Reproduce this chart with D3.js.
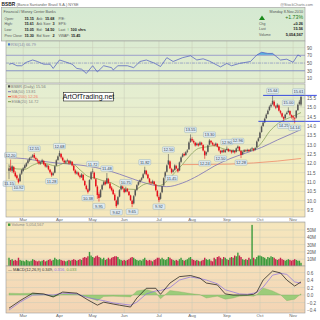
<!DOCTYPE html>
<html>
<head>
<meta charset="utf-8">
<script src="https://cdnjs.cloudflare.com/ajax/libs/d3/7.8.5/d3.min.js"></script>
<style>
body { margin: 0; background: #fff; }
svg { display: block; font-family: "Liberation Sans", Arial, sans-serif; }
</style>
</head>
<body>
<div id="chart"></div>
<script>
// BSBR daily, 16-Feb-2010 .. 8-Nov-2010 (186 sessions)
var monthNames = ["Mar", "Apr", "May", "Jun", "Jul", "Aug", "Sep", "Oct", "Nov"];
var monthStart = [9, 32, 53, 73, 95, 116, 138, 159, 180];

var opens = [11.60,11.78,11.60,11.80,11.50,11.35,11.15,11.05,11.45,
  11.60,11.75,11.85,12.02,12.15,12.30,12.35,12.45,12.28,12.20,12.10,11.98,12.06,12.12,11.98,11.82,11.85,11.66,11.50,11.38,11.50,11.88,12.18,
  12.40,12.50,12.30,12.14,12.04,12.12,12.14,12.02,12.08,11.88,11.62,11.45,11.50,11.35,11.25,11.38,11.05,10.80,10.60,10.55,11.15,
  11.55,11.50,11.15,10.75,10.35,10.20,10.60,10.85,11.00,10.92,11.15,10.92,10.70,10.58,10.32,10.00,9.80,10.22,10.60,10.75,
  10.62,10.48,10.62,10.48,10.28,10.00,9.85,10.28,10.58,10.85,11.00,11.12,11.22,11.45,11.60,11.40,11.18,10.98,10.95,11.02,10.85,10.52,
  10.20,10.10,10.45,10.82,11.25,11.55,11.95,12.10,11.70,11.55,11.65,11.85,11.70,11.62,12.08,12.35,12.50,12.45,12.62,12.75,13.15,
  13.30,13.20,13.10,12.98,13.04,12.98,13.10,12.98,12.65,12.48,12.62,13.00,13.20,13.10,13.00,12.98,13.04,12.88,12.66,12.60,12.70,12.60,
  12.72,12.76,12.66,12.68,12.60,12.66,12.62,12.82,12.88,12.66,12.48,12.62,12.70,12.66,12.72,12.68,12.76,12.78,12.72,12.86,13.20,
  13.36,13.68,14.00,14.20,14.42,14.64,14.86,15.05,15.18,15.30,15.05,15.00,15.10,14.80,14.68,14.48,14.42,14.64,14.74,14.80,14.58,
  14.52,14.42,14.45,14.85,15.18,15.15];
var highs = [11.95,12.20,11.90,11.86,11.58,11.40,11.22,11.48,11.70,
  11.80,11.95,12.06,12.22,12.33,12.40,12.50,12.55,12.36,12.26,12.15,12.12,12.24,12.18,12.02,11.96,11.90,11.70,11.56,11.55,11.90,12.22,12.42,
  12.68,12.56,12.36,12.20,12.18,12.25,12.18,12.16,12.12,11.92,11.68,11.60,11.55,11.40,11.48,11.42,11.12,10.86,10.66,11.15,11.58,
  11.72,11.55,11.20,10.82,10.45,10.62,10.90,11.08,11.10,11.48,11.22,10.98,10.78,10.64,10.40,10.05,10.25,10.62,10.85,10.80,
  10.66,10.75,10.68,10.52,10.32,10.05,10.30,10.60,10.88,11.05,11.15,11.26,11.48,11.82,11.65,11.45,11.22,11.05,11.12,11.06,10.90,10.58,
  10.28,10.45,10.82,11.25,11.58,11.95,12.50,12.15,11.76,11.70,11.95,11.92,11.75,12.10,12.38,12.55,12.58,12.65,12.76,13.18,13.55,
  13.40,13.28,13.15,13.12,13.10,13.18,13.15,13.02,12.70,12.64,13.00,13.30,13.25,13.15,13.06,13.12,13.08,12.92,12.72,12.74,12.75,12.76,
  12.90,12.80,12.76,12.72,12.74,12.70,12.85,12.96,12.92,12.70,12.65,12.76,12.75,12.78,12.76,12.80,12.88,12.82,12.88,13.22,13.40,
  13.70,14.02,14.25,14.45,14.68,14.88,15.10,15.22,15.64,15.38,15.12,15.22,15.15,14.86,14.72,14.52,14.66,14.78,15.00,14.84,14.62,
  14.58,14.48,14.86,15.20,15.40,15.61];
var lows = [11.15,11.55,11.50,11.45,11.25,11.12,10.92,11.00,11.38,
  11.55,11.68,11.80,11.95,12.08,12.18,12.28,12.25,12.15,12.02,11.92,11.92,12.00,11.90,11.78,11.76,11.62,11.45,11.28,11.32,11.46,11.85,12.12,
  12.35,12.25,12.10,11.98,11.98,12.05,11.94,11.96,11.84,11.58,11.40,11.40,11.30,11.18,11.22,11.05,10.78,10.55,10.38,10.50,11.10,
  11.45,11.15,10.72,10.10,9.95,10.15,10.55,10.80,10.82,10.88,10.90,10.62,10.50,10.30,9.98,9.62,9.75,10.18,10.55,10.60,
  10.40,10.44,10.45,10.25,9.98,9.65,9.80,10.22,10.52,10.80,10.92,11.05,11.18,11.40,11.35,11.15,10.92,10.86,10.90,10.82,10.50,10.18,
  9.92,10.05,10.40,10.78,11.20,11.50,11.90,11.68,11.45,11.50,11.60,11.68,11.50,11.58,12.02,12.30,12.38,12.40,12.55,12.72,13.10,
  13.15,13.05,12.90,12.92,12.90,12.94,12.96,12.64,12.24,12.40,12.58,12.96,13.05,12.95,12.90,12.92,12.85,12.64,12.50,12.55,12.56,12.56,
  12.68,12.60,12.60,12.52,12.56,12.52,12.58,12.76,12.64,12.28,12.44,12.58,12.62,12.62,12.60,12.64,12.70,12.64,12.68,12.84,13.15,
  13.32,13.64,13.95,14.15,14.38,14.60,14.80,14.98,15.12,15.02,14.90,14.96,14.78,14.62,14.44,14.25,14.38,14.60,14.70,14.55,14.40,
  14.30,14.14,14.40,14.80,15.10,15.05];
var closes = [11.73,11.63,11.84,11.52,11.31,11.20,10.99,11.41,11.63,
  11.73,11.89,12.00,12.16,12.27,12.32,12.43,12.30,12.22,12.11,12.00,12.05,12.16,11.95,11.84,11.89,11.68,11.52,11.36,11.47,11.84,12.16,12.37,
  12.55,12.32,12.16,12.05,12.11,12.16,12.00,12.11,11.89,11.63,11.47,11.52,11.36,11.26,11.41,11.10,10.83,10.62,10.46,11.10,11.52,
  11.57,11.20,10.78,10.30,10.14,10.56,10.83,10.99,10.88,11.20,10.94,10.67,10.56,10.35,10.03,9.71,10.19,10.56,10.78,10.67,
  10.46,10.60,10.50,10.30,10.03,9.82,10.24,10.56,10.83,10.99,11.10,11.20,11.41,11.63,11.41,11.20,10.99,10.94,11.04,10.88,10.56,10.24,
  10.03,10.40,10.78,11.20,11.52,11.89,12.16,11.73,11.52,11.63,11.89,11.73,11.57,12.05,12.32,12.48,12.43,12.59,12.69,13.12,13.33,
  13.22,13.12,12.96,13.06,12.96,13.12,13.01,12.69,12.43,12.59,12.96,13.22,13.12,13.01,12.96,13.06,12.90,12.69,12.58,12.69,12.62,12.70,
  12.78,12.65,12.69,12.59,12.69,12.59,12.80,12.90,12.69,12.45,12.60,12.70,12.68,12.72,12.66,12.74,12.80,12.70,12.82,13.17,13.33,
  13.65,13.97,14.18,14.39,14.61,14.82,15.03,15.14,15.35,15.09,14.98,15.14,14.82,14.71,14.50,14.39,14.61,14.71,14.82,14.61,14.50,
  14.45,14.39,14.82,15.14,15.30,15.56];

// volume, millions of shares
var volumes = [12,9,10,8,9,8,12,9,8,
  8,7,9,8,7,8,10,9,8,7,8,7,8,9,7,8,9,10,8,9,12,10,9,
  10,9,8,8,7,8,9,8,9,10,9,8,9,10,9,12,13,12,14,20,15,
  13,12,14,15,13,12,10,12,9,10,12,10,12,13,14,14,13,10,9,8,
  9,8,9,10,12,13,12,10,9,8,9,8,10,12,9,8,9,8,7,9,10,12,
  12,10,12,10,9,10,13,12,10,9,8,9,8,10,12,9,8,9,10,12,13,
  10,9,8,9,8,7,8,9,12,10,9,10,8,7,12,10,13,14,12,10,13,12,
  10,9,12,13,12,15,14,19,15,13,10,9,10,9,12,10,57,12,10,13,15,
  15,14,13,12,10,13,12,14,13,12,10,9,10,12,10,9,8,9,10,9,8,
  9,10,9,8,8,5.05];

// overlays (session index -> value)
var ma50Idx = [0,10,20,30,40,50,60,70,80,90,100,110,120,130,140,150,160,170,180,185];
var ma50Val = [12.30,12.25,12.12,12.02,11.95,11.85,11.68,11.42,11.12,10.86,10.75,10.95,11.35,11.85,12.25,12.55,12.85,13.25,13.62,13.81];
var ema20Idx = [0,5,10,15,20,25,30,35,40,45,50,55,60,65,70,75,80,85,90,95,100,105,110,115,120,125,130,135,140,145,150,155,160,165,170,175,180,185];
var ema20Val = [11.85,11.70,11.68,11.90,12.02,11.95,11.85,12.00,11.98,11.65,11.30,11.20,11.05,10.95,10.72,10.62,10.60,10.85,10.95,10.80,11.05,11.50,11.95,12.45,12.80,12.88,12.95,12.80,12.70,12.68,12.66,12.72,13.10,13.70,14.10,14.35,14.52,14.72];
var ma200Idx = [110,125,140,155,170,185];
var ma200Val = [11.93,11.94,11.96,12.02,12.12,12.26];

var rsiIdx = [0,2,5,8,11,15,18,22,26,28,32,35,40,43,46,49,53,56,60,65,66,69,75,79,83,87,92,96,100,104,110,115,119,123,127,134,138,141,146,153,157,160,164,167,172,176,180,183,185];
var rsiVal = [47,49,43,43,52,58,54,47,47,36,58,54,47,36,34,23,43,27,43,38,32,43,43,38,54,58,50,41,64,54,64,69,58,61,55,40,49,43,49,54,71,78,75,75,58,60,52,71,66.79];

var macdIdx = [0,7,15,22,28,34,43,50,56,60,66,70,77,81,87,93,96,102,108,115,121,125,132,137,142,146,151,155,157,161,167,172,176,181,185];
var macdVal = [-0.35,-0.15,0.05,0.03,-0.05,0.08,0.05,-0.13,-0.27,-0.19,-0.24,-0.27,-0.32,-0.08,0.18,0.18,0.02,0.32,0.49,0.52,0.45,0.32,0.27,0.03,0.00,0.00,0.00,0.02,0.08,0.40,0.64,0.59,0.40,0.24,0.349];
var signalVal = [-0.40,-0.19,0.00,0.01,0.00,0.05,0.03,-0.07,-0.12,-0.15,-0.21,-0.23,-0.27,-0.19,0.03,0.11,0.12,0.20,0.40,0.48,0.44,0.40,0.30,0.14,0.08,0.03,0.02,0.05,0.07,0.21,0.53,0.58,0.55,0.35,0.316];

// swing high / low tags
var tagHighIdx = [1,16,32,53,62,74,86,101,115,127,138,145,167,177,185];
var tagLowIdx = [0,6,27,50,57,68,78,95,103,124,134,147,174,181];

// drawn support / resistance
var levelPrice = [15.64, 14.25];
var levelFrom = [161, 158];
var levelTo = [195, 197];

var priceTicks = [9.5,10,10.5,11,11.5,12,12.5,13,13.5,14,14.5,15,15.5];
var rsiTicks = [10,30,50,70,90];
var volTicks = [10,20,30,40,50,60];
var macdTicks = [-0.4,-0.2,0,0.2,0.4,0.6];

var W = 320, H = 320, L = 6, R = 305;
var svg = d3.select("#chart").append("svg").attr("width", W).attr("height", H);
var defs = svg.append("defs");
var grad = defs.append("linearGradient").attr("id", "bg")
    .attr("gradientUnits", "userSpaceOnUse").attr("x1", 0).attr("y1", 8).attr("x2", 0).attr("y2", 314);
grad.append("stop").attr("offset", "0%").attr("stop-color", "#d5e9d2");
grad.append("stop").attr("offset", "30%").attr("stop-color", "#e6eed0");
grad.append("stop").attr("offset", "55%").attr("stop-color", "#f4ecbc");
grad.append("stop").attr("offset", "80%").attr("stop-color", "#f6e2bc");
grad.append("stop").attr("offset", "100%").attr("stop-color", "#f3d4b4");

var x = d3.scaleLinear().domain([0, 185]).range([9, 301]);
var rsiP = {top: 41, bottom: 83}, priceP = {top: 84, bottom: 217}, volP = {top: 222, bottom: 266}, macdP = {top: 266, bottom: 313};
var yR = d3.scaleLinear().domain([0, 100]).range([82.3, 43.8]);
var yP = d3.scaleLinear().domain([9.5, 15.5]).range([210, 98]);
var yV = d3.scaleLinear().domain([0, 60]).range([266.5, 222.7]);
var yM = d3.scaleLinear().domain([-0.5, 0.75]).range([313.8, 266.9]);

function panel(p) {
    svg.append("rect").attr("x", L).attr("y", p.top).attr("width", R - L).attr("height", p.bottom - p.top)
        .attr("fill", "url(#bg)");
}
function grid(p, scale, ticks) {
    var g = svg.append("g");
    ticks.forEach(function (t) {
        var yy = scale(t);
        if (yy < p.top + 0.5 || yy > p.bottom - 0.5) return;
        g.append("line").attr("x1", L).attr("x2", R).attr("y1", yy).attr("y2", yy)
            .attr("stroke", "#c9cdb8").attr("stroke-width", 0.5);
    });
    monthStart.forEach(function (m) {
        g.append("line").attr("x1", x(m)).attr("x2", x(m)).attr("y1", p.top).attr("y2", p.bottom)
            .attr("stroke", "#c6cab4").attr("stroke-width", 0.5);
    });
}
function border(p) {
    svg.append("rect").attr("x", L).attr("y", p.top).attr("width", R - L).attr("height", p.bottom - p.top)
        .attr("fill", "none").attr("stroke", "#9a9a9a").attr("stroke-width", 0.6);
}
function axisLabels(scale, ticks, fmt, p) {
    var ax = d3.axisRight(scale).tickValues(ticks.filter(function (t) {
        var yy = scale(t); return yy >= p.top + 1 && yy <= p.bottom;
    })).tickFormat(fmt).tickSize(0).tickPadding(2);
    var g = svg.append("g").attr("transform", "translate(" + R + ",0)").call(ax);
    g.select(".domain").remove();
    g.selectAll("text").attr("font-size", 4.6).attr("fill", "#555").attr("font-family", "'Liberation Sans', Arial, sans-serif");
}

// ---------- header ----------
svg.append("text").attr("x", 1.5).attr("y", 5.8).attr("font-size", 4.8).attr("font-weight", "bold").attr("fill", "#222").text("BSBR");
svg.append("text").attr("x", 16.5).attr("y", 5.8).attr("font-size", 3.8).attr("fill", "#666").text("(Banco Santander Brasil S.A.) NYSE");
svg.append("text").attr("x", 313).attr("y", 5.5).attr("font-size", 3.8).attr("fill", "#777").attr("text-anchor", "end").text("@StockCharts.com");

svg.append("rect").attr("x", 1.5).attr("y", 7.5).attr("width", R - 1.5).attr("height", 33.5)
    .attr("fill", "url(#bg)").attr("stroke", "#9a9a9a").attr("stroke-width", 0.6);
var info = svg.append("g").attr("font-size", 3.5).attr("fill", "#555");
info.append("text").attr("x", 3.5).attr("y", 13.3).attr("font-size", 3.7).text("Financial / Money Center Banks");
var infoRows = [
    ["Open:", "15.15", "Ask:", "15.68", "P/E:", ""],
    ["High:", "15.61", "Ask Size:", "3", "EPS:", ""],
    ["Low:", "15.05", "Bid:", "14.50", "Last", "100 shrs"],
    ["Prev Close:", "15.30", "Bid Size:", "2", "VWAP:", "15.45"]
];
infoRows.forEach(function (r, k) {
    var yy = 19.6 + k * 5.7;
    info.append("text").attr("x", 4.5).attr("y", yy).text(r[0]);
    info.append("text").attr("x", 34).attr("y", yy).attr("text-anchor", "end").attr("font-size", 3.8).attr("font-weight", "bold").attr("fill", "#222").text(r[1]);
    info.append("text").attr("x", 36.5).attr("y", yy).text(r[2]);
    info.append("text").attr("x", 54.5).attr("y", yy).attr("text-anchor", "end").attr("font-size", 3.8).attr("font-weight", "bold").attr("fill", "#222").text(r[3]);
    info.append("text").attr("x", 58.5).attr("y", yy).text(r[4]);
    if (k === 2) {
        info.append("text").attr("x", 67).attr("y", yy).attr("font-size", 4.4).attr("fill", "#1a9a1a").attr("font-weight", "bold").text("\u2191");
        info.append("text").attr("x", 70.5).attr("y", yy).attr("font-size", 3.8).attr("font-weight", "bold").attr("fill", "#222").text(r[5]);
    } else if (r[5]) {
        info.append("text").attr("x", 80.5).attr("y", yy).attr("text-anchor", "end").attr("font-size", 3.8).attr("font-weight", "bold").attr("fill", "#222").text(r[5]);
    }
});
info.append("text").attr("x", 303).attr("y", 13).attr("text-anchor", "end").attr("font-size", 3.7).text("Monday 8-Nov-2010");
info.append("path").attr("d", "M259,20 L262,15.5 L265,20 Z").attr("fill", "#1a8a1a");
info.append("text").attr("x", 303).attr("y", 19.3).attr("text-anchor", "end").attr("font-size", 5.2).attr("fill", "#1a7a1a").text("+1.73%");
[["Chg", "+0.26"], ["Last", "15.56"], ["Volume", "5,054,567"]].forEach(function (r, k) {
    var yy = 24.9 + k * 5.5;
    info.append("text").attr("x", 259).attr("y", yy).text(r[0]);
    info.append("text").attr("x", 303).attr("y", yy).attr("text-anchor", "end").attr("font-size", 3.9).attr("font-weight", "bold").attr("fill", "#222").text(r[1]);
});

// ---------- RSI ----------
panel(rsiP);
grid(rsiP, yR, rsiTicks);
var rsiPts = rsiIdx.map(function (d, k) { return [x(d), yR(rsiVal[k])]; });
defs.append("clipPath").attr("id", "ob").append("rect").attr("x", L).attr("y", rsiP.top).attr("width", R - L).attr("height", yR(70) - rsiP.top);
svg.append("path").attr("clip-path", "url(#ob)")
    .attr("d", d3.area().x(function (d) { return d[0]; }).y0(yR(70)).y1(function (d) { return d[1]; })(rsiPts))
    .attr("fill", "#5aaee0");
svg.append("line").attr("x1", L).attr("x2", R).attr("y1", yR(70)).attr("y2", yR(70)).attr("stroke", "#aab0cc").attr("stroke-width", 1.4);
svg.append("line").attr("x1", L).attr("x2", R).attr("y1", yR(30)).attr("y2", yR(30)).attr("stroke", "#6a78c8").attr("stroke-width", 0.7);
svg.append("line").attr("x1", L).attr("x2", R).attr("y1", yR(50)).attr("y2", yR(50)).attr("stroke", "#6a78c8").attr("stroke-width", 0.5).attr("stroke-dasharray", "3,1,1,1");
svg.append("path").attr("d", d3.line()(rsiPts)).attr("fill", "none").attr("stroke", "#4a58c0").attr("stroke-width", 0.7);
border(rsiP);
axisLabels(yR, rsiTicks, d3.format("d"), rsiP);
svg.append("rect").attr("x", 8).attr("y", 43.3).attr("width", 2.2).attr("height", 2.2).attr("fill", "#4a7ad0");
svg.append("text").attr("x", 11).attr("y", 46).attr("font-size", 4).attr("fill", "#8888aa").text("RSI(14) 66.79");

// ---------- price ----------
panel(priceP);
grid(priceP, yP, priceTicks);
svg.append("path").attr("d", d3.line().x(function (d) { return x(d); }).y(function (d, k) { return yP(ma200Val[k]); })(ma200Idx))
    .attr("fill", "none").attr("stroke", "#f08a6a").attr("stroke-width", 0.8);
svg.append("path").attr("d", d3.line().curve(d3.curveMonotoneX).x(function (d) { return x(d); }).y(function (d, k) { return yP(ma50Val[k]); })(ma50Idx))
    .attr("fill", "none").attr("stroke", "#7a70b8").attr("stroke-width", 0.8);
svg.append("path").attr("d", d3.line().curve(d3.curveMonotoneX).x(function (d) { return x(d); }).y(function (d, k) { return yP(ema20Val[k]); })(ema20Idx))
    .attr("fill", "none").attr("stroke", "#7c9a50").attr("stroke-width", 0.7);

var cg = svg.append("g");
closes.forEach(function (c, i) {
    var o = opens[i];
    var up = i === 0 ? c >= o : c >= closes[i - 1];
    var hollow = c > o;
    var col = up ? (hollow ? "#555" : "#111") : (hollow ? "#f08c8c" : "#e8101c");
    cg.append("line").attr("x1", x(i)).attr("x2", x(i)).attr("y1", yP(highs[i])).attr("y2", yP(lows[i]))
        .attr("stroke", col).attr("stroke-width", 0.6);
    var t = yP(Math.max(o, c)), b = yP(Math.min(o, c));
    cg.append("rect").attr("x", x(i) - 0.75).attr("width", 1.5).attr("y", t).attr("height", Math.max(0.5, b - t)).attr("fill", col);
});

levelPrice.forEach(function (p, k) {
    svg.append("line").attr("x1", x(levelFrom[k])).attr("x2", x(levelTo[k])).attr("y1", yP(p)).attr("y2", yP(p))
        .attr("stroke", "#2236e0").attr("stroke-width", 0.9);
});

function tag(i, v, above) {
    var cx = Math.min(x(i), R - 6.5), cy = above ? yP(v) - 4.5 : yP(v) + 4.5;
    svg.append("rect").attr("x", cx - 6).attr("y", cy - 2.7).attr("width", 12).attr("height", 5.4).attr("rx", 1)
        .attr("fill", "#dfeaf0").attr("stroke", "#8aa6b4").attr("stroke-width", 0.4);
    svg.append("text").attr("x", cx).attr("y", cy + 1.5).attr("text-anchor", "middle").attr("font-size", 4)
        .attr("fill", "#345").text(v.toFixed(2));
}
tagHighIdx.forEach(function (i) { tag(i, highs[i], true); });
tagLowIdx.forEach(function (i) { tag(i, lows[i], false); });

border(priceP);
axisLabels(yP, priceTicks, d3.format(".1f"), priceP);

var lg = svg.append("g").attr("font-size", 4);
lg.append("rect").attr("x", 8).attr("y", 85.3).attr("width", 2.2).attr("height", 2.2).attr("fill", "#444");
lg.append("text").attr("x", 11).attr("y", 88).attr("fill", "#777").text("BSBR (Daily) 15.56");
[["MA(50) 13.81", "#7a70b8", "#888"], ["MA(200) 12.26", "#e8402a", "#f0806a"], ["EMA(20) 14.72", "#7c9a50", "#888"]].forEach(function (r, k) {
    var yy = 93 + k * 5;
    lg.append("line").attr("x1", 8).attr("x2", 11).attr("y1", yy - 1.3).attr("y2", yy - 1.3).attr("stroke", r[1]).attr("stroke-width", 1);
    lg.append("text").attr("x", 11.5).attr("y", yy).attr("fill", r[2]).text(r[0]);
});

svg.append("rect").attr("x", 63.5).attr("y", 92.5).attr("width", 50).attr("height", 8.5).attr("fill", "#fff").attr("stroke", "#222").attr("stroke-width", 0.6);
svg.append("text").attr("x", 88.5).attr("y", 99.2).attr("text-anchor", "middle").attr("font-size", 7).attr("fill", "#111").text("ArtOfTrading.net");

// month labels
function months(yy) {
    monthNames.forEach(function (m, k) {
        svg.append("text").attr("x", x(monthStart[k])).attr("y", yy).attr("text-anchor", "middle")
            .attr("font-size", 4.4).attr("fill", "#666").text(m);
    });
}
months(221.3);

// ---------- volume ----------
panel(volP);
grid(volP, yV, volTicks);
var vg = svg.append("g");
volumes.forEach(function (v, i) {
    var up = i === 0 ? closes[i] >= opens[i] : closes[i] >= closes[i - 1];
    vg.append("rect").attr("x", x(i) - 0.7).attr("width", 1.4).attr("y", yV(v)).attr("height", yV(0) - yV(v))
        .attr("fill", up ? "#3c9a3c" : "#c8244c");
});
border(volP);
axisLabels(yV, volTicks, function (d) { return d + "M"; }, volP);
svg.append("rect").attr("x", 8).attr("y", 223.5).attr("width", 2.4).attr("height", 2.4).attr("fill", "#3c9a3c");
svg.append("text").attr("x", 11.5).attr("y", 226.3).attr("font-size", 4).attr("fill", "#888").text("Volume 5,054,567");

// ---------- MACD ----------
panel(macdP);
grid(macdP, yM, macdTicks);
svg.append("path")
    .attr("d", d3.area().x(function (d) { return x(d); }).y0(yM(0)).y1(function (d, k) { return yM(macdVal[k] - signalVal[k]); })(macdIdx))
    .attr("fill", "#9ccc7a").attr("stroke", "#78a858").attr("stroke-width", 0.3);
svg.append("path").attr("d", d3.line().x(function (d) { return x(d); }).y(function (d, k) { return yM(signalVal[k]); })(macdIdx))
    .attr("fill", "none").attr("stroke", "#8a6ee0").attr("stroke-width", 0.7);
svg.append("path").attr("d", d3.line().x(function (d) { return x(d); }).y(function (d, k) { return yM(macdVal[k]); })(macdIdx))
    .attr("fill", "none").attr("stroke", "#111").attr("stroke-width", 0.7);
border(macdP);
axisLabels(yM, macdTicks, d3.format(".1f"), macdP);
var mt = svg.append("text").attr("x", 8).attr("y", 270.5).attr("font-size", 4);
mt.append("tspan").attr("fill", "#333").text("\u2014 MACD(12,26,9) 0.349, ");
mt.append("tspan").attr("fill", "#8a6ee0").text("0.316, ");
mt.append("tspan").attr("fill", "#6aa048").text("0.033");
months(317);
</script>
</body>
</html>
